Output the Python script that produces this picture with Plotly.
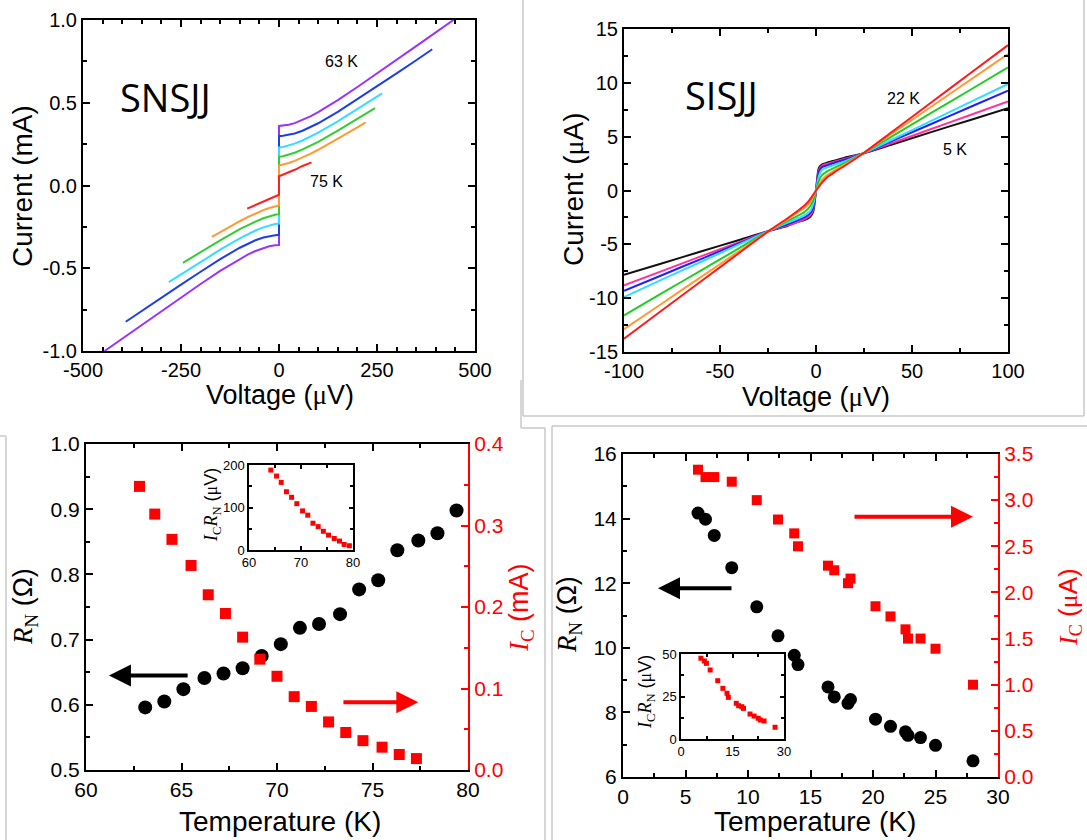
import plotly.graph_objects as go

# ---------------- data ----------------
# SNSJJ current-voltage curves: voltage in uV, current in mA (63 K ... 75 K)
snsjj_colors = ["#9933ff", "#1f3fe6", "#33ddff", "#33cc33", "#ff9933", "#ff2020"]
snsjj_v = [
    [-445, -400, -350, -300, -250, -200, -150, -100, -80, -60, -40, -25, -10, 0, 0, 10, 25, 40, 60, 80, 100, 150, 200, 250, 300, 350, 400, 445],
    [-391, -350, -300, -250, -200, -150, -100, -80, -60, -40, -25, -10, 0, 0, 10, 25, 40, 60, 80, 100, 150, 200, 250, 300, 350, 391],
    [-281, -250, -200, -150, -100, -80, -60, -40, -25, -10, 0, 0, 10, 25, 40, 60, 80, 100, 150, 200, 250, 263],
    [-245, -200, -150, -100, -80, -60, -40, -25, -10, 0, 0, 10, 25, 40, 60, 80, 100, 150, 200, 245],
    [-171, -150, -100, -80, -60, -40, -25, -10, 0, 0, 10, 25, 40, 60, 80, 100, 150, 200, 221],
    [-81, -60, -40, -25, -10, 0, 0, 10, 25, 40, 60, 83],
]
snsjj_i = [
    [-1.0, -0.925, -0.842, -0.759, -0.676, -0.595, -0.516, -0.444, -0.418, -0.396, -0.377, -0.367, -0.361, -0.36,
     0.36, 0.361, 0.367, 0.377, 0.396, 0.418, 0.444, 0.516, 0.595, 0.676, 0.759, 0.842, 0.925, 1.0],
    [-0.823, -0.757, -0.678, -0.599, -0.521, -0.445, -0.376, -0.352, -0.331, -0.314, -0.305, -0.300, -0.298,
     0.298, 0.300, 0.305, 0.314, 0.331, 0.352, 0.376, 0.445, 0.521, 0.599, 0.678, 0.757, 0.823],
    [-0.584, -0.537, -0.461, -0.388, -0.320, -0.295, -0.272, -0.253, -0.242, -0.233, -0.230,
     0.230, 0.233, 0.242, 0.253, 0.272, 0.295, 0.320, 0.388, 0.461, 0.537, 0.557],
    [-0.467, -0.402, -0.331, -0.264, -0.240, -0.218, -0.198, -0.186, -0.177, -0.173,
     0.173, 0.177, 0.186, 0.198, 0.218, 0.240, 0.264, 0.331, 0.402, 0.467],
    [-0.311, -0.282, -0.216, -0.191, -0.169, -0.149, -0.136, -0.126, -0.121,
     0.121, 0.126, 0.136, 0.149, 0.169, 0.191, 0.216, 0.282, 0.351, 0.381],
    [-0.140, -0.118, -0.095, -0.079, -0.065, -0.056, 0.056, 0.065, 0.079, 0.095, 0.118, 0.140],
]

# SISJJ current-voltage curves: voltage in uV, current in uA (5 K ... 22 K)
sisjj_colors = ["#111111", "#ff3399", "#2020ff", "#33ddff", "#22cc22", "#ff9933", "#ff1a1a"]
sisjj_v = [-100, -80, -60, -40, -24.5, -15, -10, -6, -3, -1.5, 0, 1.5, 3, 6, 10, 15, 24.5, 40, 60, 80, 100]
sisjj_i = [
    [-7.84, -6.76, -5.67, -4.59, -3.75, -3.30, -2.95, -2.75, -2.45, -2.00, 0, 2.10, 2.40, 2.60, 2.80, 3.05, 3.44, 4.30, 5.42, 6.53, 7.65],
    [-8.80, -7.46, -6.12, -4.79, -3.75, -3.25, -2.95, -2.65, -2.30, -1.80, 0, 1.90, 2.30, 2.50, 2.70, 2.95, 3.44, 4.43, 5.71, 6.99, 8.27],
    [-9.33, -7.85, -6.37, -4.90, -3.75, -3.15, -2.80, -2.50, -2.10, -1.60, 0, 1.70, 2.15, 2.35, 2.60, 2.85, 3.44, 4.64, 6.18, 7.73, 9.27],
    [-9.89, -8.26, -6.64, -5.01, -3.75, -3.00, -2.65, -2.30, -1.90, -1.30, 0, 1.35, 1.90, 2.15, 2.40, 2.70, 3.44, 4.76, 6.47, 8.18, 9.89],
    [-11.59, -9.51, -7.44, -5.36, -3.75, -2.85, -2.40, -2.00, -1.45, -0.95, 0, 0.90, 1.40, 1.80, 2.15, 2.55, 3.44, 5.08, 7.20, 9.31, 11.43],
    [-12.89, -10.47, -8.05, -5.63, -3.75, -2.70, -2.10, -1.60, -1.05, -0.55, 0, 0.50, 0.95, 1.45, 1.90, 2.40, 3.44, 5.34, 7.78, 10.23, 12.67],
    [-13.76, -11.10, -8.45, -5.80, -3.75, -2.60, -1.95, -1.40, -0.80, -0.40, 0, 0.35, 0.70, 1.25, 1.75, 2.30, 3.44, 5.50, 8.17, 10.84, 13.50],
]

# SNSJJ: normal resistance and critical current versus temperature
sns_t_rn = [63.1, 64.1, 65.1, 66.2, 67.2, 68.2, 69.2, 70.2, 71.2, 72.2, 73.3, 74.3, 75.3, 76.3, 77.4, 78.4, 79.4]
sns_rn = [0.596, 0.605, 0.624, 0.641, 0.648, 0.656, 0.675, 0.693, 0.718, 0.724, 0.739, 0.777, 0.791, 0.837, 0.852, 0.863, 0.898]
sns_t_ic = [62.8, 63.6, 64.5, 65.5, 66.4, 67.3, 68.2, 69.1, 70.0, 70.9, 71.8, 72.7, 73.6, 74.5, 75.5, 76.4, 77.3]
sns_ic = [0.348, 0.314, 0.283, 0.251, 0.215, 0.192, 0.163, 0.136, 0.115, 0.090, 0.078, 0.059, 0.046, 0.036, 0.028, 0.019, 0.014]
sns_t_icrn = [64.2, 65.3, 66.2, 67.2, 68.2, 69.2, 70.3, 71.3, 72.3, 73.3, 74.3, 75.3, 76.4, 77.4, 78.3, 79.3]
sns_icrn = [188, 174, 159, 137, 124, 109, 92, 82, 63, 55, 44, 35, 27, 21, 13, 10]

# SISJJ: normal resistance and critical current versus temperature
sis_t = [6.0, 6.6, 7.3, 8.7, 10.7, 12.4, 13.7, 14.0, 16.4, 16.9, 18.0, 18.2, 20.2, 21.4, 22.6, 22.8, 23.8, 25.0, 28.0]
sis_rn = [14.17, 13.98, 13.48, 12.48, 11.27, 10.37, 9.77, 9.48, 8.79, 8.48, 8.28, 8.40, 7.79, 7.57, 7.40, 7.29, 7.22, 6.98, 6.50]
sis_ic = [3.33, 3.25, 3.25, 3.20, 3.00, 2.79, 2.64, 2.50, 2.29, 2.24, 2.10, 2.15, 1.85, 1.74, 1.60, 1.50, 1.50, 1.39, 1.00]
sis_t_icrn = [5.8, 6.8, 7.4, 8.5, 10.7, 12.2, 13.4, 13.8, 16.1, 16.8, 17.7, 18.2, 20.1, 21.3, 22.5, 23.1, 24.2, 27.4]
sis_icrn = [47.5, 45.9, 44.5, 40.6, 34.3, 29.8, 26.9, 24.5, 21.0, 19.6, 19.0, 18.0, 14.7, 13.5, 12.2, 11.2, 10.6, 6.9]

# ---------------- layout helpers ----------------
W, H = 1087, 840
SANS = "Arial, Liberation Sans, sans-serif"
SERIF = "Liberation Serif, Times New Roman, serif"
RED = "#ff0000"
MU = f'<span style="font-family:{SERIF}">\u03bc</span>'


def dom_x(a, b):
    return [a / W, b / W]


def dom_y(top, bottom):
    return [1 - bottom / H, 1 - top / H]


def fmt(v, nd):
    return f"{v:.{nd}f}"  # plain hyphen-minus for negatives


def axis(rng, domain, anchor, vals, nd, minor, size, color="black", mirror="ticks",
         ticklen=7, minorlen=4, lw=2, **kw):
    d = dict(range=rng, anchor=anchor, tickmode="array", tickvals=vals,
             ticktext=[fmt(v, nd) for v in vals], automargin=False,
             ticks="inside", ticklen=ticklen, tickwidth=1.5, tickcolor=color,
             showline=True, linewidth=lw, linecolor=color, mirror=mirror,
             showgrid=False, zeroline=False,
             tickfont=dict(family=SANS, size=size, color=color),
             minor=dict(dtick=minor, tick0=vals[0], ticks="inside", ticklen=minorlen,
                        tickwidth=1.5, tickcolor=color, showgrid=False))
    if domain is not None:
        d["domain"] = domain
    d.update(kw)
    return d


fig = go.Figure()

# ---- top left: SNSJJ I-V ----
for v, i, c in zip(snsjj_v, snsjj_i, snsjj_colors):
    fig.add_trace(go.Scatter(x=v, y=i, mode="lines", line=dict(color=c, width=2),
                             xaxis="x", yaxis="y", showlegend=False))

# ---- top right: SISJJ I-V ----
for i, c in zip(sisjj_i, sisjj_colors):
    fig.add_trace(go.Scatter(x=sisjj_v, y=i, mode="lines",
                             line=dict(color=c, width=2, shape="spline", smoothing=0.8),
                             xaxis="x2", yaxis="y2", showlegend=False))

# ---- bottom left: SNSJJ R_N and I_C ----
fig.add_trace(go.Scatter(x=sns_t_rn, y=sns_rn, mode="markers",
                         marker=dict(symbol="circle", size=14, color="black"),
                         xaxis="x3", yaxis="y3", showlegend=False))
fig.add_trace(go.Scatter(x=sns_t_ic, y=sns_ic, mode="markers",
                         marker=dict(symbol="square", size=11, color=RED),
                         xaxis="x3", yaxis="y4", showlegend=False))

# ---- bottom right: SISJJ R_N and I_C ----
fig.add_trace(go.Scatter(x=sis_t, y=sis_rn, mode="markers",
                         marker=dict(symbol="circle", size=13, color="black"),
                         xaxis="x5", yaxis="y5", showlegend=False))
fig.add_trace(go.Scatter(x=sis_t, y=sis_ic, mode="markers",
                         marker=dict(symbol="square", size=10, color=RED),
                         xaxis="x5", yaxis="y6", showlegend=False))

# ---- insets: I_C R_N product ----
fig.add_trace(go.Scatter(x=sns_t_icrn, y=sns_icrn, mode="markers",
                         marker=dict(symbol="square", size=5, color=RED),
                         xaxis="x7", yaxis="y7", showlegend=False))
fig.add_trace(go.Scatter(x=sis_t_icrn, y=sis_icrn, mode="markers",
                         marker=dict(symbol="square", size=5, color=RED),
                         xaxis="x8", yaxis="y8", showlegend=False))

layout = dict(
    template="none",
    width=W, height=H, autosize=False,
    margin=dict(l=0, r=0, t=0, b=0, pad=0),
    paper_bgcolor="white", plot_bgcolor="white",
    showlegend=False,
    font=dict(family=SANS, color="black"),
    xaxis=axis([-500, 500], dom_x(83, 475), "y", [-500, -250, 0, 250, 500], 0, 50, 20),
    yaxis=axis([-1, 1], dom_y(20, 351), "x", [-1, -0.5, 0, 0.5, 1], 1, 0.25, 20),
    xaxis2=axis([-100, 100], dom_x(624, 1008), "y2", [-100, -50, 0, 50, 100], 0, 25, 20),
    yaxis2=axis([-15, 15], dom_y(29, 352), "x2", [-15, -10, -5, 0, 5, 10, 15], 0, 2.5, 20),
    xaxis3=axis([60, 80], dom_x(86, 468), "y3", [60, 65, 70, 75, 80], 0, 2.5, 21),
    yaxis3=axis([0.5, 1.0], dom_y(444, 770), "x3", [0.5, 0.6, 0.7, 0.8, 0.9, 1.0], 1, 0.05, 21, mirror=False),
    yaxis4=axis([0, 0.4], None, "x3", [0, 0.1, 0.2, 0.3, 0.4], 1, 0.05, 21, color=RED, mirror=False,
                overlaying="y3", side="right"),
    xaxis5=axis([0, 30], dom_x(623, 998), "y5", [0, 5, 10, 15, 20, 25, 30], 0, 2.5, 21),
    yaxis5=axis([6, 16], dom_y(454, 777), "x5", [6, 8, 10, 12, 14, 16], 0, 1, 21, mirror=False),
    yaxis6=axis([0, 3.5], None, "x5", [0, 0.5, 1, 1.5, 2, 2.5, 3, 3.5], 1, 0.25, 21, color=RED, mirror=False,
                overlaying="y5", side="right"),
    xaxis7=axis([60, 80], dom_x(249, 353), "y7", [60, 70, 80], 0, 5, 13, ticklen=4, minorlen=3, lw=1.5),
    yaxis7=axis([0, 200], dom_y(465, 550), "x7", [0, 100, 200], 0, 50, 13, ticklen=4, minorlen=3, lw=1.5),
    xaxis8=axis([0, 30], dom_x(681, 784), "y8", [0, 15, 30], 0, 7.5, 13, ticklen=4, minorlen=3, lw=1.5),
    yaxis8=axis([0, 50], dom_y(654, 739), "x8", [0, 25, 50], 0, 12.5, 13, ticklen=4, minorlen=3, lw=1.5),
)
fig.update_layout(**layout)


def label(text, px, py, size, color="black", angle=0, family=SANS):
    fig.add_annotation(text=text, x=px / W, y=1 - py / H, xref="paper", yref="paper",
                       xanchor="center", yanchor="middle", showarrow=False, textangle=angle,
                       font=dict(family=family, size=size, color=color))


# axis titles
label("Current (mA)", 22, 186, 28, angle=-90)
label(f"Voltage ({MU}V)", 280, 395, 27)
label(f"Current ({MU}A)", 574, 190, 28, angle=-90)
label(f"Voltage ({MU}V)", 816, 397, 27)
label("Temperature (K)", 280, 821, 28)
label("Temperature (K)", 815, 821, 28)
rn_title = f'<span style="font-family:{SERIF}"><i>R</i><sub>N</sub></span> (\u03a9)'
ic_ma = f'<span style="font-family:{SERIF}"><i>I</i><sub>C</sub></span> (mA)'
ic_ua = f'<span style="font-family:{SERIF}"><i>I</i><sub>C</sub></span> ({MU}A)'
icrn = (f'<span style="font-family:{SERIF}"><i>I</i><sub>C</sub><i>R</i><sub>N</sub></span>'
        f' ({MU}V)')
label(rn_title, 25, 607, 27, angle=-90)
label(ic_ma, 521, 608, 27, color=RED, angle=-90)
label(rn_title, 569, 615, 27, angle=-90)
label(ic_ua, 1069, 607, 26, color=RED, angle=-90)
label(icrn, 212, 505, 18, angle=-90)
label(icrn, 646, 692, 18, angle=-90)

# panel names and temperature tags
label("SNSJJ", 165, 97, 38, family="Open Sans")
label("SISJJ", 721, 95, 38, family="Open Sans")
label("63 K", 341, 62, 16)
label("75 K", 326, 181, 16)
label("22 K", 903, 98, 16)
label("5 K", 955, 149, 16)


def arrow(x_tip, x_tail, y, xa, ya, color):
    fig.add_annotation(x=x_tip, y=y, ax=x_tail, ay=y, xref=xa, yref=ya, axref=xa, ayref=ya,
                       text="", showarrow=True, arrowhead=2, arrowsize=1.1, arrowwidth=4,
                       arrowcolor=color)


arrow(61.2, 65.4, 0.645, "x3", "y3", "black")
arrow(77.4, 73.4, 0.083, "x3", "y4", RED)
arrow(2.8, 8.8, 11.84, "x5", "y5", "black")
arrow(28.0, 18.4, 2.82, "x5", "y6", RED)

# light grey frames separating the four panels
GREY = "#c8c8c8"


def seg(x0, y0, x1, y1):
    fig.add_shape(type="line", xref="paper", yref="paper",
                  x0=x0 / W, y0=1 - y0 / H, x1=x1 / W, y1=1 - y1 / H,
                  line=dict(color=GREY, width=1.5), layer="above")


seg(523, -2, 523, 416)
seg(523, 416, 1084, 416)
seg(1084, -2, 1084, 416)
seg(521, 380, 521, 428)
seg(521, 428, 545, 428)
seg(545, 428, 545, 842)
seg(-2, 436, 6, 436)
seg(6, 436, 6, 842)
seg(552, 426, 1090, 426)
seg(552, 426, 552, 842)

fig.write_html("out.html")
